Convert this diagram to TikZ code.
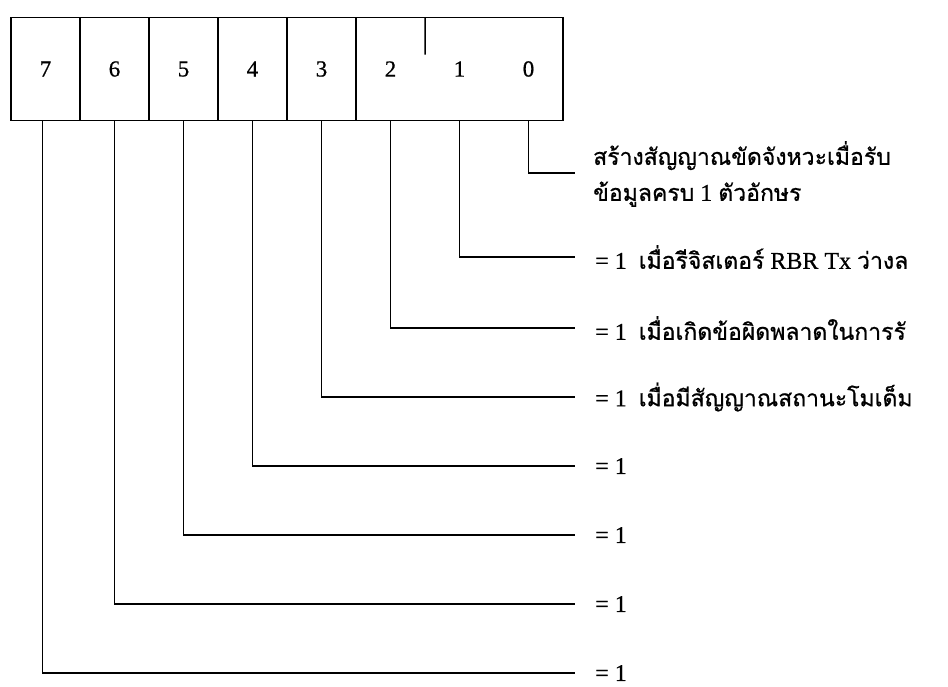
\documentclass[tikz,border=0pt]{standalone}
\usepackage{fontspec}
\usetikzlibrary{calc}
\setmainfont{Liberation Serif}[FakeBold=0.7]
\newfontfamily\thaifont[Script=Thai,FakeBold=0.8]{Loma}
\newcommand{\thtxt}[1]{{\thaifont\fontsize{23}{28}\selectfont #1}}
\begin{document}
\begin{tikzpicture}[x=1pt,y=-1pt,
  ln/.style={line width=1.5pt,black},
  cell/.style={minimum width=69pt,minimum height=103pt,inner sep=0pt,font=\fontsize{23}{27}\selectfont},
  lbl/.style={anchor=west,inner sep=0pt,font=\fontsize{24}{29}\selectfont,align=left}
]
\useasboundingbox (0,0) rectangle (948,686);
% cells
\foreach \b [count=\i from 0] in {7,6,5,4,3,2,1,0}{
  \node[cell] (c\b) at ({45.5+69*\i},69) {\b};
}
\draw[ln] (c7.north west) rectangle (c0.south east);
\foreach \b in {7,6,5,4,3}{ \draw[ln] (c\b.north east) -- (c\b.south east); }
\draw[ln] (c2.north east) -- ($(c2.north east)!0.36!(c2.south east)$);
% line ends
\coordinate (e0) at (575,173);
\coordinate (e1) at (575,257);
\coordinate (e2) at (575,328);
\coordinate (e3) at (575,397);
\coordinate (e4) at (575,466);
\coordinate (e5) at (575,535);
\coordinate (e6) at (575,604);
\coordinate (e7) at (575,673);
\coordinate (s7) at ($(c7.south)+(-3,0)$);
% labels
\node[lbl] (l0) at (593,174) {\thtxt{สร้างสัญญาณขัดจังหวะเมื่อรับ}\\[7pt]\thtxt{ข้อมูลครบ} 1 \thtxt{ตัวอักษร}};
\node[lbl] (l1) at (595,257) {= 1\ \ \thtxt{เมื่อรีจิสเตอร์} RBR Tx \thtxt{ว่างล}};
\node[lbl] (l2) at (595,328) {= 1\ \ \thtxt{เมื่อเกิดข้อผิดพลาดในการรั}};
\node[lbl] (l3) at (595,397) {= 1\ \ \thtxt{เมื่อมีสัญญาณสถานะโมเด็ม}};
\node[lbl] (l4) at (595,466) {= 1};
\node[lbl] (l5) at (595,535) {= 1};
\node[lbl] (l6) at (595,604) {= 1};
\node[lbl] (l7) at (595,673) {= 1};
% leaders
\foreach \b in {0,...,6}{ \draw[ln] (c\b.south) |- (e\b); }
\draw[ln] (s7) |- (e7);
\end{tikzpicture}
\end{document}
